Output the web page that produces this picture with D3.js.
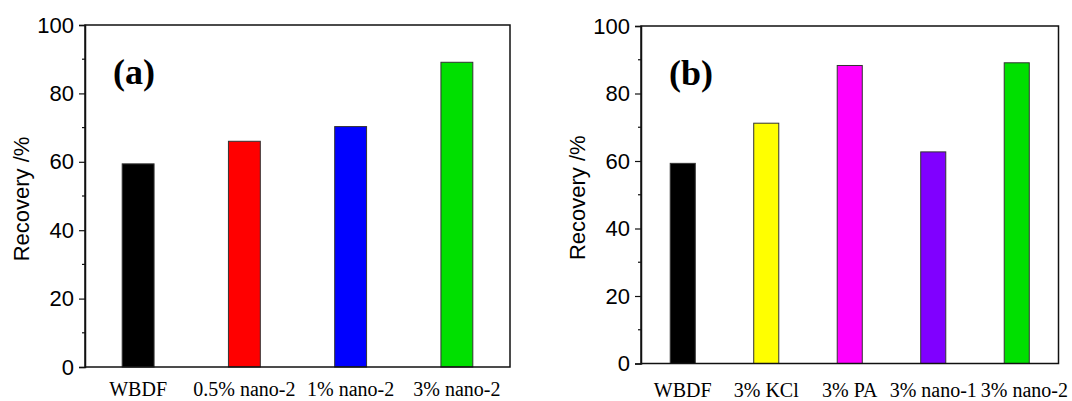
<!DOCTYPE html>
<html>
<head>
<meta charset="utf-8">
<script src="https://cdn.jsdelivr.net/npm/d3@7"></script>
<style>
  body { margin: 0; background: #fff; }
  svg { display: block; }
  .tick text { font-family: "Liberation Sans", Arial, sans-serif; font-size: 22px; fill: #000; }
  .cat { font-family: "Liberation Serif", "Times New Roman", serif; font-size: 20px; fill: #000; }
  .ylab { font-family: "Liberation Sans", Arial, sans-serif; font-size: 22px; fill: #000; }
  .tag { font-family: "Liberation Serif", "Times New Roman", serif; font-size: 36px; font-weight: bold; fill: #000; }
</style>
</head>
<body>
<script>
// panel (a)
const catsA = ['WBDF', '0.5% nano-2', '1% nano-2', '3% nano-2'];
const valsA = [59.4, 66.0, 70.3, 89.1];
const colorsA = ['#000000', '#ff0000', '#0000ff', '#00e000'];

// panel (b)
const catsB = ['WBDF', '3% KCl', '3% PA', '3% nano-1', '3% nano-2'];
const valsB = [59.3, 71.2, 88.3, 62.7, 89.1];
const colorsB = ['#000000', '#ffff00', '#ff00ff', '#8000ff', '#00e000'];

const yTicks = [0, 20, 40, 60, 80, 100];
const yMinor = [10, 30, 50, 70, 90];

const width = 1072, height = 401;

const svg = d3.select('body').append('svg')
	.attr('width', width)
	.attr('height', height);

function drawPanel(box, cats, vals, colors, tag) {
	const x = d3.scaleBand()
		.domain(cats)
		.range([box.left, box.right])
		.paddingInner(0.6)
		.paddingOuter(0.3);

	const y = d3.scaleLinear()
		.domain([0, 100])
		.range([box.bottom, box.top]);

	const g = svg.append('g');

	// bars
	const barW = (box.right - box.left) / cats.length * 0.3;
	g.selectAll('rect.bar')
		.data(cats)
		.join('rect')
		.attr('class', 'bar')
		.attr('x', d => x(d) + x.bandwidth() / 2 - barW / 2)
		.attr('width', barW)
		.attr('y', (d, i) => y(vals[i]))
		.attr('height', (d, i) => y(0) - y(vals[i]))
		.attr('fill', (d, i) => colors[i])
		.attr('stroke', '#333')
		.attr('stroke-width', 1);

	// frame
	g.append('rect')
		.attr('x', box.left)
		.attr('y', box.top)
		.attr('width', box.right - box.left)
		.attr('height', box.bottom - box.top)
		.attr('fill', 'none')
		.attr('stroke', '#111')
		.attr('stroke-width', 1.5);

	// y axis, major ticks
	const yAxis = g.append('g')
		.attr('transform', `translate(${box.left},0)`)
		.call(d3.axisLeft(y).tickValues(yTicks).tickSize(6).tickPadding(5));
	yAxis.select('.domain').attr('stroke', '#111').attr('stroke-width', 1.5);
	yAxis.selectAll('.tick line').attr('stroke', '#111').attr('stroke-width', 1.2);

	// minor ticks
	g.selectAll('line.minor')
		.data(yMinor)
		.join('line')
		.attr('class', 'minor')
		.attr('x1', box.left - 3)
		.attr('x2', box.left)
		.attr('y1', d => y(d))
		.attr('y2', d => y(d))
		.attr('stroke', '#111')
		.attr('stroke-width', 1.2);

	// category labels, pushed right when they would run into the previous one,
	// but kept inside the picture
	const labels = g.selectAll('text.cat')
		.data(cats)
		.join('text')
		.attr('class', 'cat')
		.attr('x', d => x(d) + x.bandwidth() / 2)
		.attr('y', box.catY)
		.attr('text-anchor', 'middle')
		.text(d => d);
	let prevRight = -Infinity;
	labels.each(function() {
		const bb = this.getBBox();
		let shift = 0;
		if (bb.x < prevRight + 10) shift = prevRight + 10 - bb.x;
		if (bb.x + bb.width + shift > width - 4) shift = width - 4 - bb.x - bb.width;
		d3.select(this).attr('x', +d3.select(this).attr('x') + shift);
		prevRight = bb.x + bb.width + shift;
	});

	// y label
	g.append('text')
		.attr('class', 'ylab')
		.attr('transform', `translate(${box.labX},${(box.top + box.bottom) / 2 + 3}) rotate(-90)`)
		.attr('text-anchor', 'middle')
		.text('Recovery /%');

	// panel tag
	g.append('text')
		.attr('class', 'tag')
		.attr('x', box.left + 28)
		.attr('y', box.top + 59)
		.text(tag);
}

drawPanel({ left: 85, right: 510, top: 25, bottom: 367, catY: 396, labX: 29 },
	catsA, valsA, colorsA, '(a)');
drawPanel({ left: 641, right: 1058.5, top: 26, bottom: 363.5, catY: 397, labX: 585 },
	catsB, valsB, colorsB, '(b)');
</script>
</body>
</html>
